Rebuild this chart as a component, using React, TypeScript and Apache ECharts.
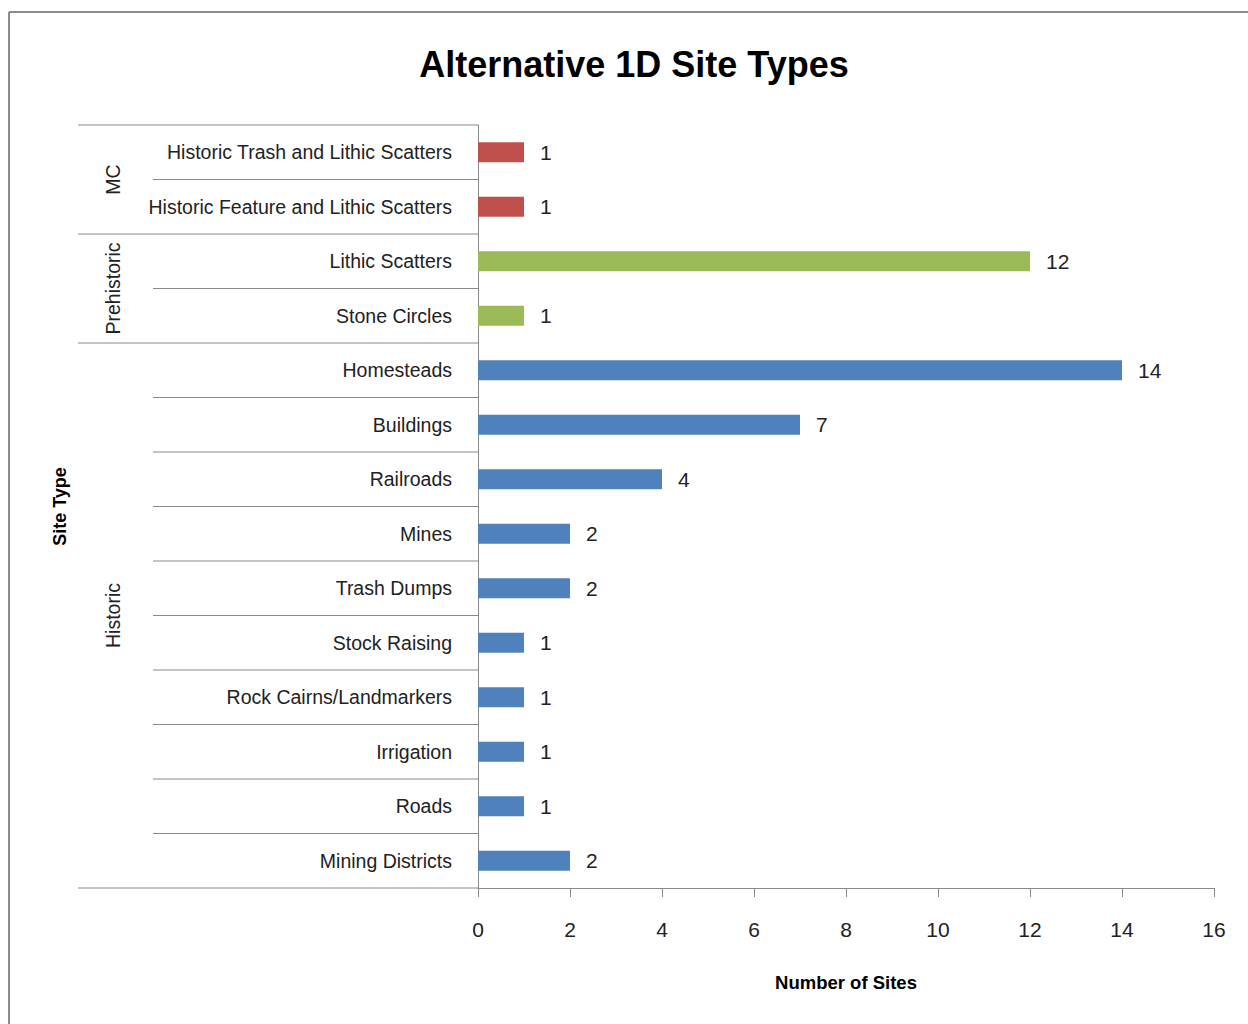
import React, { useEffect, useRef } from "react";
import * as echarts from "echarts";

const categories = [
  "Historic Trash and Lithic Scatters",
  "Historic Feature and Lithic Scatters",
  "Lithic Scatters",
  "Stone Circles",
  "Homesteads",
  "Buildings",
  "Railroads",
  "Mines",
  "Trash Dumps",
  "Stock Raising",
  "Rock Cairns/Landmarkers",
  "Irrigation",
  "Roads",
  "Mining Districts",
];
const values = [1, 1, 12, 1, 14, 7, 4, 2, 2, 1, 1, 1, 1, 2];
const groupNames = ["MC", "Prehistoric", "Historic"];
const groupSizes = [2, 2, 10];
const groupColors = ["#C0504D", "#9BBB59", "#4F81BD"];
const xMin = 0;
const xMax = 16;
const xInterval = 2;

const TITLE = "Alternative 1D Site Types";
const X_NAME = "Number of Sites";
const Y_NAME = "Site Type";

const FONT = "'Liberation Sans', Arial, sans-serif";
const TEXT = "#222222";
const LINE = "#8a8a8a";

function groupIndexOf(i: number): number {
  let acc = 0;
  for (let g = 0; g < groupSizes.length; g++) {
    acc += groupSizes[g];
    if (i < acc) return g;
  }
  return groupSizes.length - 1;
}

export default function App() {
  const ref = useRef<HTMLDivElement>(null);
  useEffect(() => {
    if (!ref.current) return;
    const chart = echarts.init(ref.current, undefined, { renderer: "svg" });
    const gridLeft = 478;
    const gridTop = 125;
    const gridRight = 1214;
    const gridBottom = 888;
    chart.setOption({
      animation: false,
      backgroundColor: "#ffffff",
      grid: {
        left: gridLeft,
        top: gridTop,
        width: gridRight - gridLeft,
        height: gridBottom - gridTop,
        containLabel: false,
      },
      xAxis: {
        type: "value",
        min: xMin,
        max: xMax,
        interval: xInterval,
        name: X_NAME,
        nameLocation: "middle",
        nameGap: 85,
        nameTextStyle: { fontFamily: FONT, fontSize: 18.5, fontWeight: "bold", color: "#000" },
        axisLine: { show: true, lineStyle: { color: LINE, width: 1 } },
        axisTick: { show: true, length: 9, lineStyle: { color: LINE } },
        axisLabel: { fontFamily: FONT, fontSize: 21, color: TEXT, margin: 31 },
        splitLine: { show: false },
      },
      yAxis: {
        type: "category",
        data: categories,
        inverse: true,
        axisLine: { show: true, lineStyle: { color: LINE, width: 1 } },
        axisTick: { show: false },
        axisLabel: { fontFamily: FONT, fontSize: 19.5, color: TEXT, margin: 26 },
        splitLine: { show: false },
      },
      series: [
        {
          type: "bar",
          data: values.map((v, i) => ({
            value: v,
            itemStyle: { color: groupColors[groupIndexOf(i)] },
          })),
          barWidth: 20,
          label: {
            show: true,
            position: "right",
            distance: 16,
            fontFamily: FONT,
            fontSize: 21,
            color: TEXT,
          },
        },
      ],
    });

    const centers = categories.map((_, i) => chart.convertToPixel({ yAxisIndex: 0 }, i) as number);
    const band = Math.abs(centers[1] - centers[0]);
    const boundaries: number[] = [];
    for (let k = 0; k <= categories.length; k++) boundaries.push(centers[0] - band / 2 + k * band);
    const axisX = chart.convertToPixel({ xAxisIndex: 0 }, xMin) as number;
    const groupStarts: number[] = [0];
    groupSizes.forEach((s, g) => groupStarts.push(groupStarts[g] + s));

    const graphics: any[] = [];
    boundaries.forEach((y, k) => {
      const isGroup = groupStarts.indexOf(k) >= 0;
      graphics.push({
        type: "line",
        shape: { x1: isGroup ? 78 : 153, y1: y, x2: axisX, y2: y },
        style: { stroke: LINE, lineWidth: 1 },
        silent: true,
      });
    });
    groupNames.forEach((name, g) => {
      const yc = (boundaries[groupStarts[g]] + boundaries[groupStarts[g + 1]]) / 2;
      graphics.push({
        type: "text",
        x: 113,
        y: yc,
        rotation: Math.PI / 2,
        style: {
          text: name,
          fontFamily: FONT,
          fontSize: 19.5,
          fill: TEXT,
          align: "center",
          verticalAlign: "middle",
          textAlign: "center",
          textVerticalAlign: "middle",
        },
      });
    });
    graphics.push({
      type: "text",
      x: 60,
      y: (boundaries[0] + boundaries[boundaries.length - 1]) / 2,
      rotation: Math.PI / 2,
      style: {
        text: Y_NAME,
        fontFamily: FONT,
        fontSize: 18,
        fontWeight: "bold",
        fill: "#000",
        align: "center",
        verticalAlign: "middle",
        textAlign: "center",
        textVerticalAlign: "middle",
      },
    });
    graphics.push({
      type: "text",
      x: 634,
      y: 64,
      style: {
        text: TITLE,
        fontFamily: FONT,
        fontSize: 36,
        fontWeight: "bold",
        fill: "#000",
        align: "center",
        verticalAlign: "middle",
        textAlign: "center",
        textVerticalAlign: "middle",
      },
    });
    graphics.push({
      type: "line",
      shape: { x1: 9, y1: 12, x2: 1248, y2: 12 },
      style: { stroke: "#8c8c8c", lineWidth: 2 },
      silent: true,
    });
    graphics.push({
      type: "line",
      shape: { x1: 9, y1: 12, x2: 9, y2: 1024 },
      style: { stroke: "#8c8c8c", lineWidth: 2 },
      silent: true,
    });
    chart.setOption({ graphic: graphics });

    return () => chart.dispose();
  }, []);
  return (
    <div
      ref={ref}
      style={{ position: "absolute", left: 0, top: 0, width: 1248, height: 1024 }}
    />
  );
}
